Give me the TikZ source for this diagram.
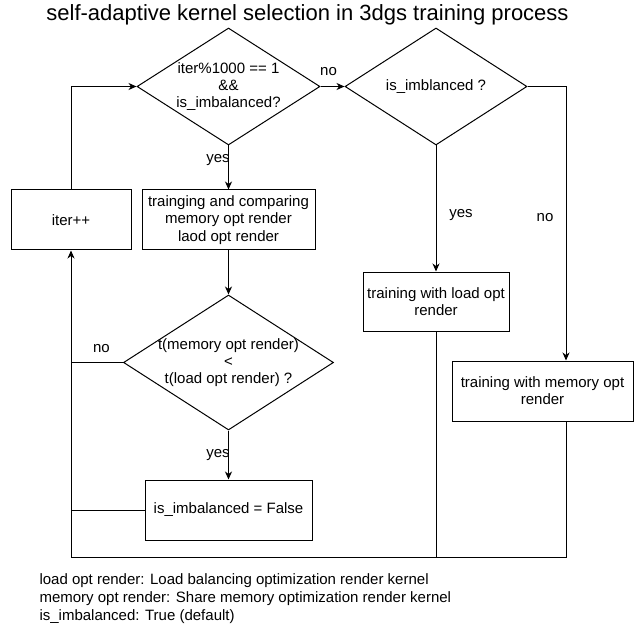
\documentclass[tikz,border=0pt]{standalone}
\usepackage{fontspec}
\setmainfont{Liberation Sans}
\usepackage{tikz}
\usetikzlibrary{
    arrows.meta,
    positioning,
    shapes.geometric
}

\begin{document}
\begin{tikzpicture}[
        x=1pt, y=-1pt,
        font=\fontsize{15}{17.25}\selectfont,
        block/.style={
            rectangle,
            draw,
            align=center,
            line width=1pt,
            inner sep=2pt,
            minimum height=60pt
        },
        decision/.style={
            diamond,
            draw,
            line width=1pt,
            inner sep=0pt
        },
        line/.style={
            -{Stealth[length=8pt, width=7pt, inset=2.5pt]},
            line width=1pt
        },
        plain/.style={
            line width=1pt
        },
        lbl/.style={
            inner sep=0pt
        }
    ]

    \useasboundingbox (0,0) rectangle (642,636);

    \node[font=\fontsize{22}{26}\selectfont] (title) at (307.5,15)
        {self-adaptive kernel selection in 3dgs training process};

    \node[decision, minimum width=183pt, minimum height=117pt,
        label={[align=center]center:{iter\%1000 == 1\\\&\&\\is\_imbalanced?}}]
        (check) at (228.5,86.5) {};

    \node[decision, minimum width=182pt, minimum height=117pt,
        right=24pt of check, label={center:{is\_imblanced ?}}] (imbal) {};

    \node[block, minimum width=173pt, below=44pt of check] (compare)
        {trainging and comparing\\memory opt render\\laod opt render};

    \node[block, minimum width=120pt, left=10pt of compare] (iter)
        {iter++};

    \node[decision, minimum width=210pt, minimum height=135pt,
        below=44pt of compare,
        label={[align=center]center:{t(memory opt render)\\<\\t(load opt render) ?}}]
        (faster) {};

    \node[block, minimum width=167pt, below=49pt of faster] (reset)
        {is\_imbalanced = False};

    \node[block, minimum width=146pt, minimum height=59pt,
        below=126pt of imbal] (loadrun)
        {training with load opt\\render};

    \node[block, minimum width=181pt] (memrun) at (542.5,391)
        {training with memory opt\\render};

    \coordinate (rail) at (566,557);

    \draw[line] (iter.north) |- (check.west);
    \draw[line] (check.east) -- node[lbl, xshift=-4pt, yshift=15pt] {no} (imbal.west);
    \draw[line] (check.south) -- node[lbl, xshift=-10.5pt, yshift=7pt] {yes} (compare.north);
    \draw[line] (compare.south) -- (faster.north);
    \draw[line] (faster.south) -- node[lbl, xshift=-10.5pt] {yes} (reset.north);
    \draw[plain] (faster.west) -- node[lbl, xshift=4.5pt, yshift=14pt] {no}
        (faster.west -| iter.south);
    \draw[plain] (reset.west) -- (reset.west -| iter.south);

    \draw[line] (imbal.south) -- node[lbl, xshift=25pt, yshift=-7pt] {yes} (loadrun.north);
    \draw[line] (imbal.east) -| node[lbl, pos=0.74, xshift=-21pt] {no}
        (rail |- memrun.north);

    \draw[line] (loadrun.south) |- (iter.south |- rail) -- (iter.south);
    \draw[plain] (rail |- memrun.south) -- (rail) -- (loadrun.south |- rail);

    \node[align=left, anchor=north west, font=\fontsize{15}{18}\selectfont]
        (legend) at (36,570)
        {load opt render: Load balancing optimization render kernel\\
         memory opt render: Share memory optimization render kernel\\
         is\_imbalanced: True (default)};

\end{tikzpicture}
\end{document}
